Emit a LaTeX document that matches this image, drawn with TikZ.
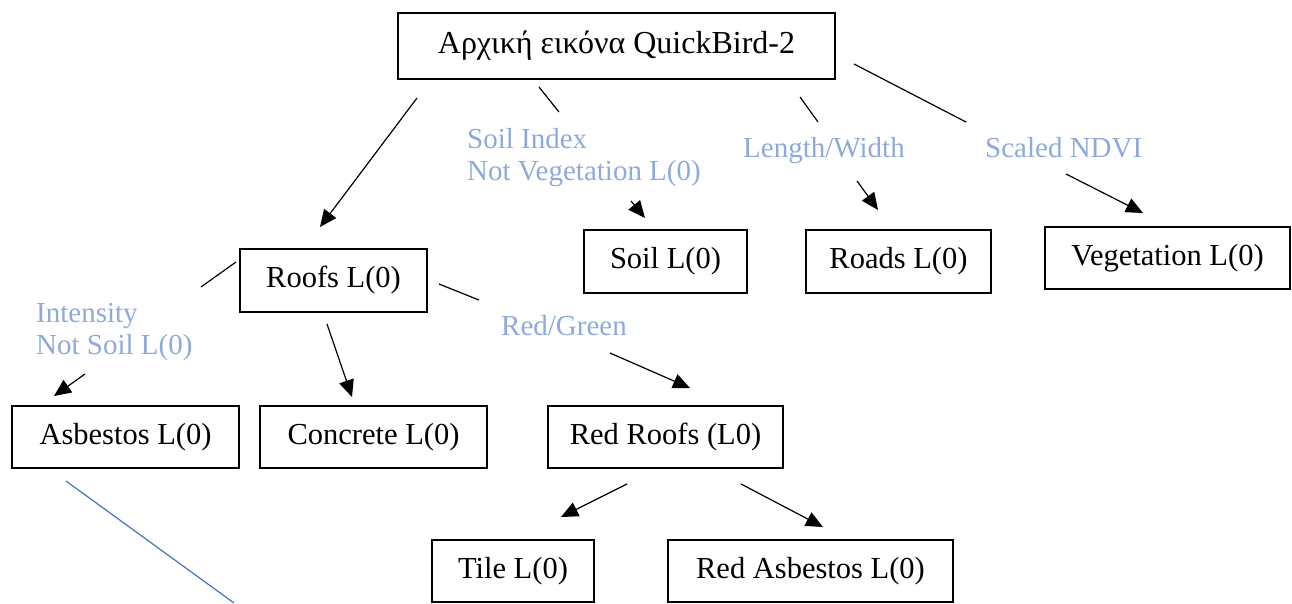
\documentclass[tikz,border=0pt]{standalone}
\usepackage{fontspec}
\setmainfont{Liberation Serif}
\usetikzlibrary{arrows.meta}
\definecolor{lbl}{HTML}{8EAADB}
\definecolor{blueline}{HTML}{4472C4}
\tikzset{
  box/.style={draw=black, line width=2.2pt, inner sep=0pt, font=\fontsize{30.5}{33}\selectfont},
  lab/.style={text=lbl, inner sep=0pt, anchor=north west, align=left, font=\fontsize{29}{32}\selectfont},
  seg/.style={line width=1.2pt},
  arr/.style={line width=1.2pt, -{Triangle[length=17pt,width=15pt]}},
}
\begin{document}
\begin{tikzpicture}[x=1pt,y=-1pt]
\useasboundingbox (0,0) rectangle (1292,603);
% boxes
\node[box, minimum width=437pt, minimum height=66pt, font=\fontsize{32}{34}\selectfont] (top) at (616.5,46) {Αρχική εικόνα QuickBird-2};
\node[box, minimum width=187pt, minimum height=63pt] (roofs) at (333.5,280.5) {Roofs L(0)};
\node[box, minimum width=163pt, minimum height=63pt] (soil) at (665.5,261.5) {Soil L(0)};
\node[box, minimum width=185pt, minimum height=63pt] (roads) at (898.5,261.5) {Roads L(0)};
\node[box, minimum width=245pt, minimum height=62pt] (veg) at (1167.5,258) {Vegetation L(0)};
\node[box, minimum width=227pt, minimum height=62pt] (asb) at (125.5,437) {Asbestos L(0)};
\node[box, minimum width=227pt, minimum height=62pt] (conc) at (373.5,437) {Concrete L(0)};
\node[box, minimum width=235pt, minimum height=62pt] (redroofs) at (665.5,437) {Red Roofs (L0)};
\node[box, minimum width=162pt, minimum height=62pt] (tile) at (513,571) {Tile L(0)};
\node[box, minimum width=285pt, minimum height=62pt] (redasb) at (810.5,571) {Red Asbestos L(0)};
% labels
\node[lab] (lsoil) at (467,128) {Soil Index\\Not Vegetation L(0)};
\node[lab] (llw) at (743,137) {Length/Width};
\node[lab] (lndvi) at (985,137) {Scaled NDVI};
\node[lab] (lint) at (36,303) {Intensity\\Not Soil L(0)};
\node[lab] (lrg) at (501,315) {Red/Green};
% connector end points
\coordinate (a1) at (417,98);   \coordinate (a2) at (320,227);
\coordinate (b1) at (539,87);   \coordinate (b2) at (559,112);
\coordinate (b3) at (631,201);  \coordinate (b4) at (645,218);
\coordinate (c1) at (800,97);   \coordinate (c2) at (818,122);
\coordinate (c3) at (857,181);  \coordinate (c4) at (878,210);
\coordinate (d1) at (854,64);   \coordinate (d2) at (966,122);
\coordinate (d3) at (1066,174); \coordinate (d4) at (1143,213);
\coordinate (e1) at (236,262);  \coordinate (e2) at (201,287);
\coordinate (e3) at (85,374);   \coordinate (e4) at (54,396);
\coordinate (f1) at (327,324);  \coordinate (f2) at (352,397);
\coordinate (g1) at (439,284);  \coordinate (g2) at (479,300);
\coordinate (g3) at (610,353);  \coordinate (g4) at (690,388);
\coordinate (h1) at (627,484);  \coordinate (h2) at (561,517);
\coordinate (i1) at (741,484);  \coordinate (i2) at (823,527);
\coordinate (j1) at (66,481);   \coordinate (j2) at (234,603);
% connectors
\draw[arr] (a1) -- (a2);
\draw[seg] (b1) -- (b2); \draw[arr] (b3) -- (b4);
\draw[seg] (c1) -- (c2); \draw[arr] (c3) -- (c4);
\draw[seg] (d1) -- (d2); \draw[arr] (d3) -- (d4);
\draw[seg] (e1) -- (e2); \draw[arr] (e3) -- (e4);
\draw[arr] (f1) -- (f2);
\draw[seg] (g1) -- (g2); \draw[arr] (g3) -- (g4);
\draw[arr] (h1) -- (h2);
\draw[arr] (i1) -- (i2);
\draw[seg, draw=blueline] (j1) -- (j2);
\end{tikzpicture}
\end{document}
